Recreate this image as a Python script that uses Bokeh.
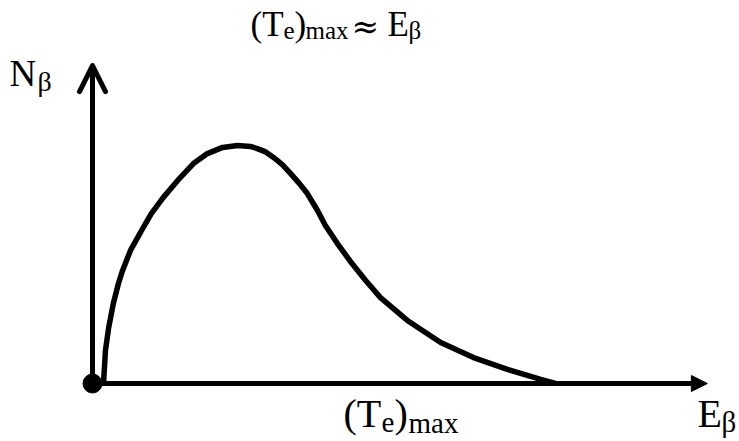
from bokeh.plotting import figure
from bokeh.models import Range1d, Arrow, OpenHead, NormalHead, Label
from bokeh.embed import file_html
from bokeh.resources import INLINE

# Beta spectrum: electron energy (in units of (Te)max) and relative count rate
energy = [0.024, 0.025, 0.028, 0.035, 0.045, 0.056, 0.065, 0.082, 0.106, 0.127,
          0.153, 0.184, 0.218, 0.248, 0.281, 0.313, 0.341, 0.356, 0.374, 0.391,
          0.410, 0.428, 0.447, 0.464, 0.486, 0.503, 0.529, 0.557, 0.590, 0.622,
          0.680, 0.752, 0.823, 0.896, 0.968, 1.000]
counts = [0.000, 0.042, 0.139, 0.235, 0.336, 0.420, 0.475, 0.559, 0.643, 0.714,
          0.782, 0.853, 0.924, 0.966, 0.992, 1.000, 0.996, 0.987, 0.973, 0.950,
          0.920, 0.882, 0.840, 0.798, 0.727, 0.664, 0.588, 0.513, 0.433, 0.361,
          0.265, 0.172, 0.109, 0.059, 0.017, 0.000]

# Extent of the two axis arrows
e_axis_end = [1.328]
n_axis_end = [1.336]

# Label pieces: (text, role) with role "main", "sub" or "sym"
top_label = [("(T", "main"), ("e", "sub"), (")", "main"), ("max", "sub"),
             ("≈", "sym"), ("E", "main"), ("β", "sub")]
bottom_label = [("(T", "main"), ("e", "sub"), (")", "main"), ("max", "sub")]
x_label = [("E", "main"), ("β", "sub")]
y_label = [("N", "main"), ("β", "sub")]

W, H = 739, 441
X0, PX_E = 92, 463     # pixel column of E=0, pixels per energy unit
Y0, PX_N = 383, 238    # pixel row of N=0, pixels per count unit
BASELINE_FIX = 0.375   # Label baseline correction, fraction of font size

p = figure(width=W, height=H, output_backend="svg", toolbar_location=None,
           x_range=Range1d(-X0 / PX_E, (W - X0) / PX_E),
           y_range=Range1d(-(H - Y0) / PX_N, Y0 / PX_N),
           x_axis_location=None, y_axis_location=None,
           min_border=0, min_border_left=0, min_border_right=0,
           min_border_top=0, min_border_bottom=0)
p.grid.visible = False
p.outline_line_color = None
p.background_fill_color = "white"
p.border_fill_color = "white"


def dx(px):
    return (px - X0) / PX_E


def dy(py):
    return (Y0 - py) / PX_N


# axes drawn as arrows
p.add_layout(Arrow(end=OpenHead(size=26, line_width=5, line_color="black",
                                line_cap="round", line_join="round"),
                   x_start=0, y_start=0, x_end=0, y_end=n_axis_end[0],
                   line_width=5, line_color="black"))
p.add_layout(Arrow(end=NormalHead(size=16, line_width=1, line_color="black",
                                  fill_color="black"),
                   x_start=0, y_start=0, x_end=e_axis_end[0], y_end=0,
                   line_width=5, line_color="black"))

# spectrum
p.line(energy, counts, line_width=5.5, line_color="black", line_join="round")
p.scatter([0], [0], size=19, color="black")

FONTS = {"main": "Liberation Serif", "sub": "Liberation Serif",
         "sym": "DejaVu Serif"}


def add_runs(pieces, xs, base, sizes, drops):
    for (txt, role), x in zip(pieces, xs):
        size = sizes[role]
        b = base + drops[role] - BASELINE_FIX * size
        p.add_layout(Label(x=dx(x), y=dy(b), text=txt,
                           text_font=FONTS[role],
                           text_font_size=f"{size}px",
                           text_align="left", text_baseline="alphabetic",
                           text_color="black"))


add_runs(top_label, [250, 283, 294, 305, 351, 387, 408], 37,
         {"main": 35, "sub": 25, "sym": 33}, {"main": 0, "sub": 2, "sym": 1})
add_runs(bottom_label, [343, 381, 394, 408], 428,
         {"main": 40, "sub": 29}, {"main": 0, "sub": 5})
add_runs(x_label, [697, 721], 428, {"main": 40, "sub": 29}, {"main": 0, "sub": 4})
add_runs(y_label, [9, 37], 87, {"main": 37, "sub": 28}, {"main": 0, "sub": 4})

open("out.html", "w").write(file_html(p, INLINE))
